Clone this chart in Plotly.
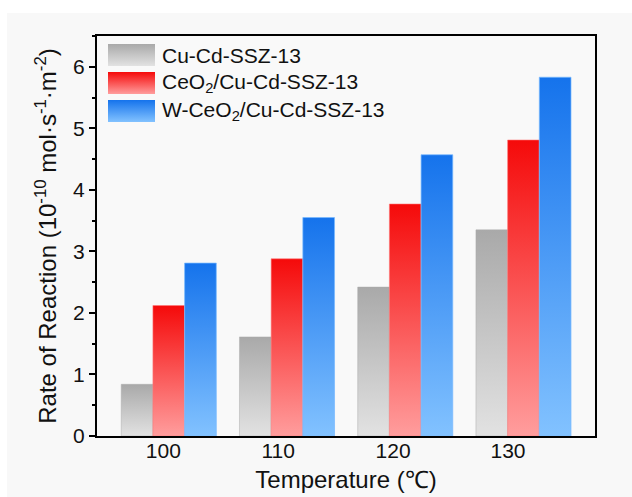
import plotly.graph_objects as go

# Reaction rate data (10^-10 mol·s^-1·m^-2) at each temperature
temperatures = [100, 110, 120, 130]
tick_labels = ["100", "110", "120", "130"]
series_names = ["Cu-Cd-SSZ-13", "CeO<sub>2</sub>/Cu-Cd-SSZ-13", "W-CeO<sub>2</sub>/Cu-Cd-SSZ-13"]
rate_cu_cd = [0.84, 1.61, 2.42, 3.35]
rate_ceo2 = [2.12, 2.88, 3.77, 4.81]
rate_w_ceo2 = [2.81, 3.55, 4.57, 5.83]
series_values = [rate_cu_cd, rate_ceo2, rate_w_ceo2]

# vertical gradients: [bottom colour, top colour]
gradients = [
    ["#e2e2e2", "#a9a9a9"],
    ["#ff9d9d", "#f50a0a"],
    ["#82c2ff", "#1573ec"],
]
edge_colors = ["rgba(170,170,170,0.6)", "rgba(255,120,120,0.7)", "rgba(120,185,255,0.9)"]

BAR_W = 2.68          # bar width in axis units
FONT = "Liberation Sans, Arial, sans-serif"

W, H = 632, 497
L, R, T, B = 97, 37, 36, 61

fig = go.Figure()

# gradient-filled bars drawn as closed rectangles on the data axes
for s, (vals, grad, edge) in enumerate(zip(series_values, gradients, edge_colors)):
    offset = (s - 1) * BAR_W
    for t, v in zip(temperatures, vals):
        x0 = t + offset - BAR_W / 2
        x1 = t + offset + BAR_W / 2
        fig.add_trace(go.Scatter(
            x=[x0, x1, x1, x0, x0],
            y=[0, 0, v, v, 0],
            mode="lines",
            fill="toself",
            line=dict(color=edge, width=0.8),
            fillgradient=dict(type="vertical", start=0, stop=v,
                              colorscale=[[0, grad[0]], [1, grad[1]]]),
            showlegend=False,
            hoverinfo="skip",
            xaxis="x", yaxis="y",
        ))

# legend swatches on a pixel-scaled overlay (y measured up from figure bottom)
sw_x0, sw_x1 = 108, 155
for k, (name, grad) in enumerate(zip(series_names, gradients)):
    top = 44 + 28 * k
    bot = top + 22
    yt, yb = H - top, H - bot
    fig.add_trace(go.Scatter(
        x=[sw_x0, sw_x1, sw_x1, sw_x0, sw_x0],
        y=[yb, yb, yt, yt, yb],
        mode="lines", fill="toself",
        line=dict(width=0, color="rgba(0,0,0,0)"),
        fillgradient=dict(type="vertical", start=yb, stop=yt,
                          colorscale=[[0, grad[0]], [1, grad[1]]]),
        showlegend=False, hoverinfo="skip",
        xaxis="x3", yaxis="y3",
    ))
    fig.add_annotation(
        x=160, y=H - (top + 11), xref="x3", yref="y3",
        text=name, showarrow=False, xanchor="left", yanchor="middle",
        font=dict(family=FONT, size=21, color="#111111"),
    )

# pale border strips around the textured background
fig.add_shape(type="rect", xref="paper", yref="paper", layer="below",
              x0=-L / (W - L - R), x1=(W - L) / (W - L - R),
              y0=1 + (T - 13) / (H - T - B), y1=1 + T / (H - T - B),
              fillcolor="white", line_width=0)
fig.add_shape(type="rect", xref="paper", yref="paper", layer="below",
              x0=-L / (W - L - R), x1=-(L - 7) / (W - L - R),
              y0=-B / (H - T - B), y1=1 + T / (H - T - B),
              fillcolor="white", line_width=0)

axis_font = dict(family=FONT, size=21, color="#111111")
title_font = dict(family=FONT, size=24, color="#111111")

fig.update_layout(
    width=W, height=H, autosize=False,
    margin=dict(l=L, r=R, t=T, b=B, pad=0),
    paper_bgcolor="#f8f8f8",
    plot_bgcolor="#f9f9f9",
    font=dict(family=FONT, color="#111111"),
    showlegend=False,
    xaxis=dict(
        range=[93.93, 136.05], showgrid=False, zeroline=False,
        showticklabels=False, ticks="", automargin=False,
        showline=True, linecolor="black", linewidth=2, mirror=True,
    ),
    xaxis2=dict(
        overlaying="x", anchor="y", side="bottom", automargin=False,
        range=[94.23, 137.57], showgrid=False, zeroline=False,
        tickvals=temperatures, ticktext=tick_labels,
        ticks="", ticklabelstandoff=0,
        tickfont=axis_font, showline=False,
        title=dict(text="Temperature (℃)", font=title_font, standoff=10),
    ),
    yaxis=dict(
        range=[0, 6.5], showgrid=False, zeroline=False, automargin=False,
        tickvals=[0, 1, 2, 3, 4, 5, 6],
        ticks="outside", ticklen=6, tickwidth=2, tickcolor="black",
        minor=dict(dtick=0.5, ticks="outside", ticklen=3, tickwidth=2, tickcolor="black"),
        tickfont=axis_font,
        showline=True, linecolor="black", linewidth=2, mirror=True,
        title=dict(text="Rate of Reaction (10<sup>-10</sup> mol·s<sup>-1</sup>·m<sup>-2</sup>)",
                   font=title_font, standoff=10),
    ),
    xaxis3=dict(overlaying="x", anchor="y3", range=[L, W - R], visible=False,
                fixedrange=True, automargin=False),
    yaxis3=dict(overlaying="y", anchor="x3", range=[B, H - T], visible=False,
                fixedrange=True, automargin=False),
)

# keep the tick-label axis attached so its labels render
fig.add_trace(go.Scatter(x=[temperatures[0]], y=[0], xaxis="x2", yaxis="y",
                         mode="markers", marker=dict(opacity=0), showlegend=False,
                         hoverinfo="skip"))

fig.write_html("out.html")
